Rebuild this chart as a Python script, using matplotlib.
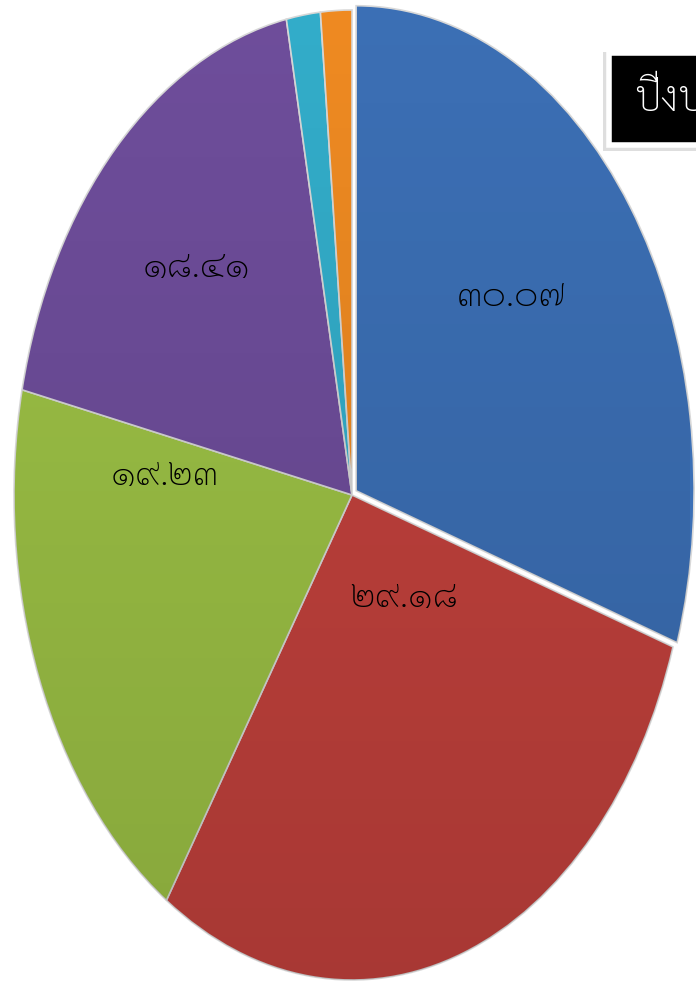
import numpy as np
import matplotlib
matplotlib.use("Agg")
import matplotlib.pyplot as plt
from matplotlib.patches import Rectangle

# - - - - data - - -
values = [30.07, 29.18, 19.23, 18.41, 1.62, 1.49]
labels = ["๓๐.๐๗", "๒๙.๑๘", "๑๙.๒๓", "๑๘.๔๑", "", ""]
colors = ["#3c70b6", "#c4423d", "#9ec346", "#6f4e9c", "#33aecb", "#f08b22"]
title = "ปีงบประมาณ"

# label positions (axes data units, pie radius = 1)
label_pos = [(0.47, 0.41), (0.155, -0.21), (-0.555, 0.04), (-0.46, 0.47)]

family = ["Sarabun", "Noto Sans Thai Looped", "DejaVu Sans"]


def main():
    fig = plt.figure(figsize=(6.96, 9.86), dpi=100)
    ax = fig.add_axes([14 / 696, 6 / 986, 676 / 696, 970 / 986])
    wedges, _ = ax.pie(values, colors=colors, startangle=90, counterclock=False,
                       explode=[0.015, 0, 0, 0, 0, 0],
                       wedgeprops=dict(edgecolor="#d8d8d8", linewidth=1.2))
    ax.set_aspect("auto")

    # soft shading, a bit darker toward the bottom
    shade = np.zeros((256, 1, 4))
    shade[:, 0, 3] = np.linspace(0, 0.15, 256)
    for w in wedges:
        im = ax.imshow(shade, extent=[-1.1, 1.1, -1.1, 1.1], aspect="auto",
                       zorder=w.get_zorder() + 0.1)
        im.set_clip_path(w)
    ax.set_xlim(-1, 1)
    ax.set_ylim(-1, 1)

    for (x, y), lab in zip(label_pos, labels):
        ax.text(x, y, lab, ha="center", va="center", fontsize=27,
                family=family, fontweight="light", color="black", zorder=5)

    # title box, runs off the right edge like the original slide
    fig.patches.append(Rectangle((603 / 696, 1 - 151 / 986), 0.2, 99 / 986,
                                 transform=fig.transFigure, facecolor="#c8c8c8",
                                 edgecolor="none", alpha=0.6))
    fig.patches.append(Rectangle((609 / 696, 1 - 145 / 986), 0.2, 92 / 986,
                                 transform=fig.transFigure, facecolor="black",
                                 edgecolor="white", linewidth=4))
    fig.text(634 / 696, 1 - 100 / 986, title, ha="left", va="center",
             fontsize=30, color="white", family=family, fontweight="light")

    fig.savefig("out.png", dpi=100)


if __name__ == '__main__':
    main()
